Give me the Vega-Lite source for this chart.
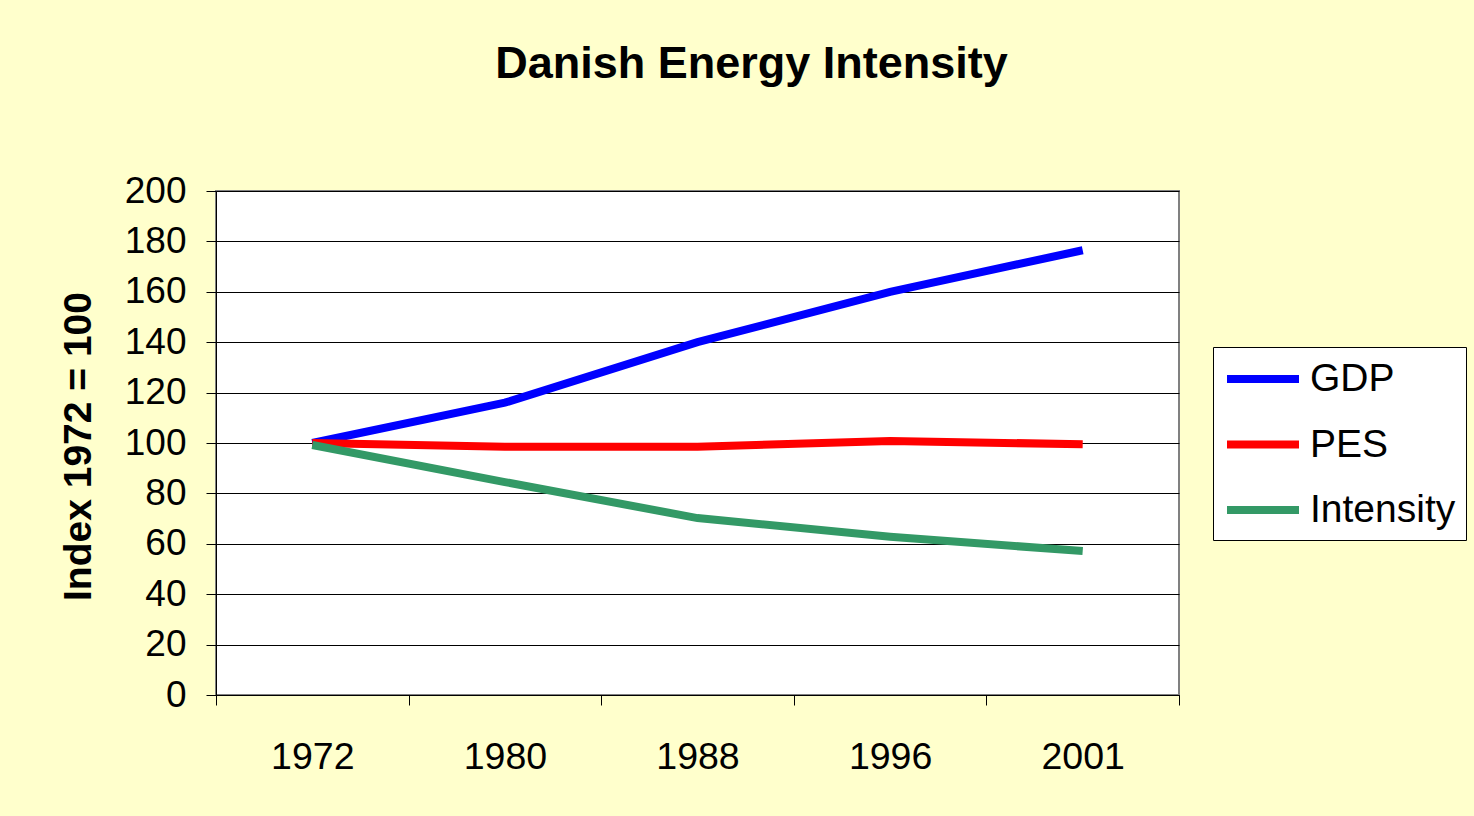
{
  "$schema": "https://vega.github.io/schema/vega-lite/v6.json",
  "width": 963,
  "height": 504,
  "autosize": {"type": "none"},
  "padding": {"left": 216, "top": 191, "right": 295, "bottom": 121},
  "background": "#FFFFCC",
  "title": {
    "text": "Danish Energy Intensity",
    "font": "Liberation Sans",
    "fontSize": 45,
    "fontWeight": "bold",
    "color": "black",
    "anchor": "middle",
    "dx": 54,
    "baseline": "alphabetic",
    "offset": 49
  },
  "data": {
    "values": [
      {"series": "GDP", "year": "1972", "idx": 0, "value": 100},
      {"series": "GDP", "year": "1980", "idx": 1, "value": 116},
      {"series": "GDP", "year": "1988", "idx": 2, "value": 140},
      {"series": "GDP", "year": "1996", "idx": 3, "value": 160},
      {"series": "GDP", "year": "2001", "idx": 4, "value": 176.5},
      {"series": "PES", "year": "1972", "idx": 0, "value": 100},
      {"series": "PES", "year": "1980", "idx": 1, "value": 98.5},
      {"series": "PES", "year": "1988", "idx": 2, "value": 98.5},
      {"series": "PES", "year": "1996", "idx": 3, "value": 100.8},
      {"series": "PES", "year": "2001", "idx": 4, "value": 99.5},
      {"series": "Intensity", "year": "1972", "idx": 0, "value": 99.2},
      {"series": "Intensity", "year": "1980", "idx": 1, "value": 84.5},
      {"series": "Intensity", "year": "1988", "idx": 2, "value": 70.2},
      {"series": "Intensity", "year": "1996", "idx": 3, "value": 62.8},
      {"series": "Intensity", "year": "2001", "idx": 4, "value": 57.1}
    ]
  },
  "mark": {"type": "line", "strokeWidth": 8, "strokeCap": "butt", "strokeJoin": "miter"},
  "encoding": {
    "x": {
      "field": "idx",
      "type": "quantitative",
      "scale": {"domain": [-0.5, 4.5], "nice": false, "zero": false},
      "axis": {
        "title": null,
        "values": [-0.5, 0.5, 1.5, 2.5, 3.5, 4.5],
        "labelExpr": "['1972','1980','1988','1996','2001',''][datum.value + 0.5]",
        "labelOffset": 96.3,
        "labelOverlap": false,
        "labelBound": false,
        "labelFlush": false,
        "grid": false,
        "tickSize": 10,
        "tickColor": "black",
        "domainColor": "black",
        "labelFontSize": 37.5,
        "labelPadding": 33,
        "labelColor": "black",
        "labelFont": "Liberation Sans"
      }
    },
    "y": {
      "field": "value",
      "type": "quantitative",
      "scale": {"domain": [0, 200], "nice": false},
      "axis": {
        "values": [0, 20, 40, 60, 80, 100, 120, 140, 160, 180, 200],
        "title": "Index 1972 = 100",
        "titleFont": "Liberation Sans",
        "titleFontSize": 39,
        "titleFontWeight": "bold",
        "titleColor": "black",
        "titleAngle": -90,
        "titleX": -138,
        "titleY": 255,
        "titleBaseline": "middle",
        "titleAlign": "center",
        "grid": true,
        "gridColor": "black",
        "gridWidth": 1,
        "tickSize": 10,
        "tickColor": "black",
        "domainColor": "black",
        "labelFontSize": 37,
        "labelPadding": 20,
        "labelColor": "black",
        "labelFont": "Liberation Sans",
        "labelOverlap": false,
        "labelBound": false,
        "labelFlush": false
      }
    },
    "color": {
      "field": "series",
      "type": "nominal",
      "sort": ["GDP", "PES", "Intensity"],
      "scale": {"domain": ["GDP", "PES", "Intensity"], "range": ["#0000FF", "#FF0000", "#339966"]},
      "legend": {
        "title": null,
        "orient": "none",
        "legendX": 997,
        "legendY": 156,
        "symbolType": "M-1,0L3,0",
        "symbolSize": 1296,
        "symbolStrokeWidth": 8,
        "labelFont": "Liberation Sans",
        "labelFontSize": 39,
        "labelColor": "black",
        "labelOffset": 43,
        "rowPadding": 23.5,
        "padding": 10,
        "fillColor": "white",
        "strokeColor": "black"
      }
    }
  },
  "config": {
    "view": {"stroke": "#808080", "strokeWidth": 2, "fill": "white"}
  }
}
